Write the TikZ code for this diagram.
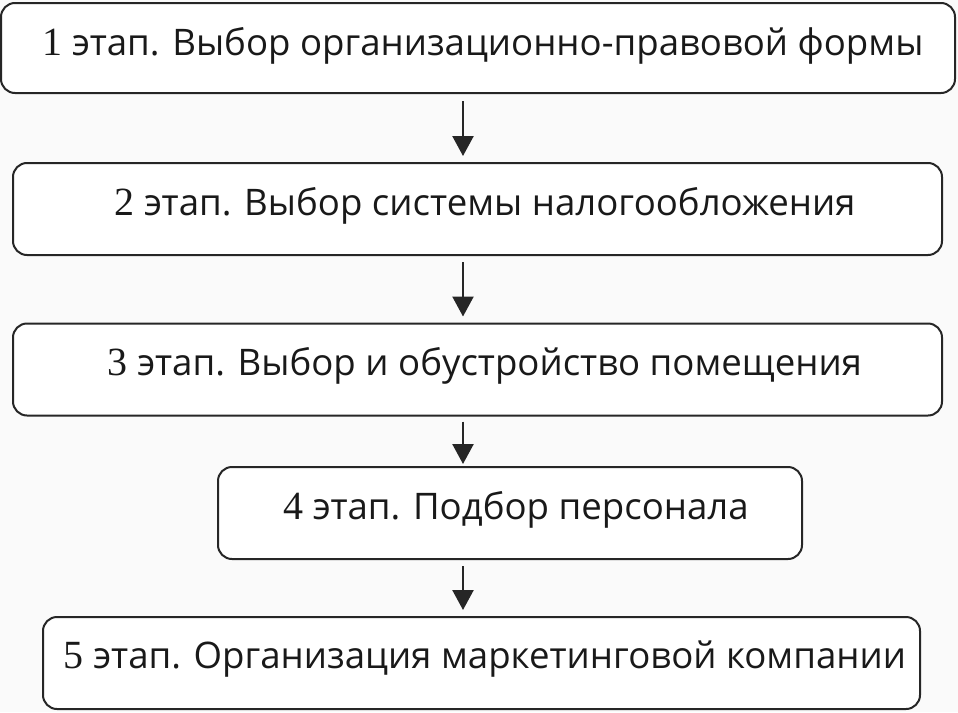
\documentclass[tikz,border=0pt]{standalone}
\usepackage{fontspec}
\setmainfont{Open Sans}
\newfontfamily\dig{Liberation Serif}
\usetikzlibrary{arrows.meta}
\newcommand{\stnum}[1]{{\dig\fontsize{40}{44}\selectfont #1}}
\tikzset{
  stagebox/.style={draw=black!85, line width=2pt, rounded corners=14pt, fill=white, inner sep=0pt},
  stagetext/.style={anchor=base, inner sep=0pt, text=black!90, font=\fontsize{36.6}{42}\selectfont},
  arr/.style={draw=black!85, line width=2.4pt, -{Triangle[width=21pt,length=20pt]}}
}
\begin{document}
\begin{tikzpicture}[x=1pt,y=-1pt]
\useasboundingbox (0,0) rectangle (958,712);
\fill[black!2] (0,0) rectangle (958,712);
\node[stagebox, minimum width=954pt, minimum height=90pt] (s1) at (478,48) {};
\node[stagebox, minimum width=929pt, minimum height=92pt] (s2) at (477.5,209) {};
\node[stagebox, minimum width=929pt, minimum height=92pt] (s3) at (477.5,369.5) {};
\node[stagebox, minimum width=584pt, minimum height=92pt] (s4) at (510,513) {};
\node[stagebox, minimum width=877pt, minimum height=92pt] (s5) at (481.5,663) {};
\node[stagetext] (t1) at (483,55) {\stnum{1} этап. Выбор организационно-правовой формы};
\node[stagetext] (t2) at (485,215) {\stnum{2} этап. Выбор системы налогообложения};
\node[stagetext] (t3) at (485,375) {\stnum{3} этап. Выбор и обустройство помещения};
\node[stagetext] (t4) at (516,519) {\stnum{4} этап. Подбор персонала};
\node[stagetext] (t5) at (485,668) {\stnum{5} этап. Организация маркетинговой компании};
\coordinate (ax) at (463,0);
\draw[arr, shorten <=7pt, shorten >=6pt] (s1.south -| ax) -- (s2.north -| ax);
\draw[arr, shorten <=6pt, shorten >=6pt] (s2.south -| ax) -- (s3.north -| ax);
\draw[arr, shorten <=5pt, shorten >=2pt] (s3.south -| ax) -- (s4.north -| ax);
\draw[arr, shorten <=6pt, shorten >=6pt] (s4.south -| ax) -- (s5.north -| ax);
\end{tikzpicture}
\end{document}
